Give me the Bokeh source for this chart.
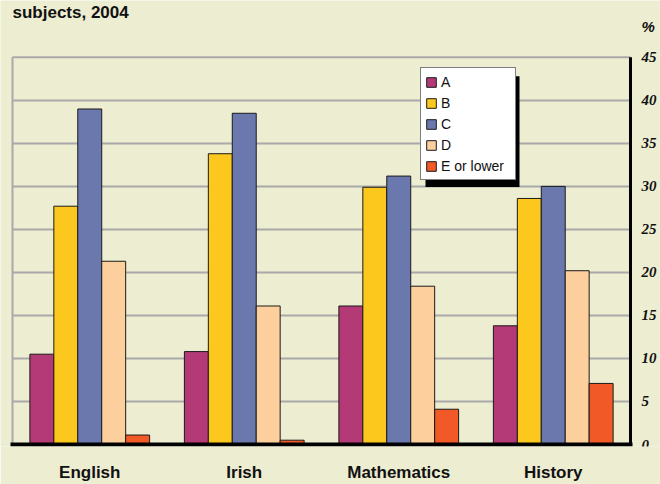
from bokeh.plotting import figure
from bokeh.models import (ColumnDataSource, Range1d, FixedTicker, Label, LabelSet,
                          Legend, LegendItem, BoxAnnotation)
from bokeh.transform import dodge
from bokeh.embed import file_html
from bokeh.resources import INLINE

# ---- data ----
subjects = ["English", "Irish", "Mathematics", "History"]
grade_names = ["A", "B", "C", "D", "E or lower"]
grade_a = [10.5, 10.8, 16.1, 13.8]
grade_b = [27.7, 33.8, 29.9, 28.6]
grade_c = [39.0, 38.5, 31.2, 30.0]
grade_d = [21.3, 16.1, 18.4, 20.2]
grade_e = [1.1, 0.5, 4.1, 7.1]
y_ticks = [0, 5, 10, 15, 20, 25, 30, 35, 40, 45]
y_tick_labels = ["0", "5", "10", "15", "20", "25", "30", "35", "40", "45"]
title_text = "subjects, 2004"
unit_text = "%"

colors = ["#B33A77", "#FDC81E", "#6B78AE", "#FCCF9D", "#F15A27"]
BG = "#EDEDD1"
GRID = "#A9A9A9"
FONT = "Liberation Sans"
TXT = "#111111"

# ---- layout (canvas pixels) ----
W, H = 660, 484
MB = 37                      # bottom border for category labels
FRAME_H = H - MB
X_LEFT_PX, X_RIGHT_PX = 12, 630  # plot box edges
PX45, PX0 = 57, 445              # canvas y of 45 and 0

n = len(subjects)
xi = list(range(1, n + 1))
x_lo, x_hi = 0.5, n + 0.5
upx = (X_RIGHT_PX - X_LEFT_PX) / (x_hi - x_lo)
y_max = max(y_ticks)
uy = (PX0 - PX45) / y_max

def px_to_x(px):
    return x_lo + (px - X_LEFT_PX) / upx

def py_to_y(py):
    return (PX0 - py) / uy

x_range = Range1d(px_to_x(0), px_to_x(W))
y_range = Range1d(py_to_y(FRAME_H), py_to_y(0))

p = figure(width=W, height=H, output_backend="svg", toolbar_location=None,
           x_range=x_range, y_range=y_range, y_axis_location=None,
           min_border_left=0, min_border_right=0, min_border_top=0,
           min_border_bottom=MB)
p.background_fill_color = BG
p.border_fill_color = BG
p.outline_line_color = None
p.xgrid.visible = False
p.ygrid.visible = False

# grid lines limited to the plot box
grid_src = ColumnDataSource(dict(y=y_ticks[1:]))
p.segment(x0=x_lo, x1=x_hi, y0="y", y1="y", source=grid_src,
          line_color=GRID, line_width=2)
# left (grey) border of the plot box
p.segment(x0=[x_lo], x1=[x_lo], y0=[0], y1=[y_max], line_color=GRID, line_width=2)

src = ColumnDataSource(dict(x=xi, A=grade_a, B=grade_b, C=grade_c, D=grade_d, E=grade_e))
bw = 0.155
offsets = [-2 * bw, -bw, 0, bw, 2 * bw]
keys = ["A", "B", "C", "D", "E"]
renderers = []
for k, off, col in zip(keys, offsets, colors):
    r = p.vbar(x=dodge("x", off), top=k, width=bw, source=src,
               fill_color=col, line_color="#1a1a1a", line_width=1)
    renderers.append(r)

# right and bottom black borders
p.segment(x0=[x_hi], x1=[x_hi], y0=[0], y1=[y_max], line_color="black", line_width=3)
p.segment(x0=[x_lo], x1=[x_hi], y0=[0], y1=[0], line_color="black", line_width=4,
          line_cap="square")

ax = p.xaxis[0]
ax.ticker = FixedTicker(ticks=xi)
overrides = {}
for v, s in zip(xi, subjects):
    overrides[v] = s
ax.major_label_overrides = overrides
ax.axis_line_color = None
ax.major_tick_line_color = None
ax.minor_tick_line_color = None
ax.major_tick_out = 0
ax.major_tick_in = 0
ax.minor_tick_out = 0
ax.minor_tick_in = 0
ax.major_label_standoff = 16
ax.major_label_text_font = FONT
ax.major_label_text_font_size = "17px"
ax.major_label_text_font_style = "bold"
ax.major_label_text_color = TXT

tick_src = ColumnDataSource(dict(y=y_ticks, text=y_tick_labels))
p.add_layout(LabelSet(x=x_hi, y="y", text="text", source=tick_src, x_offset=11,
                      text_baseline="middle", text_font=FONT, text_font_size="15px",
                      text_font_style="bold italic", text_color=TXT))
p.add_layout(Label(x=x_hi, y=y_max, x_offset=11, y_offset=31, text=unit_text,
                   text_baseline="middle", text_font=FONT, text_font_size="15px",
                   text_font_style="bold italic", text_color=TXT))
p.add_layout(Label(x=x_lo, y=py_to_y(0), x_offset=0, y_offset=-2, text=title_text,
                   text_baseline="top", text_font=FONT, text_font_size="17px",
                   text_font_style="bold", text_color=TXT))

# legend with drop shadow (canvas px)
LEG_L, LEG_T, LEG_W, LEG_H = 420, 70, 94, 111
p.add_layout(BoxAnnotation(left=px_to_x(LEG_L + 5), right=px_to_x(LEG_L + LEG_W + 5),
                           top=py_to_y(LEG_T + 6), bottom=py_to_y(LEG_T + LEG_H + 6),
                           fill_color="black", fill_alpha=1, line_color=None))
legend = Legend(items=[LegendItem(label=nm, renderers=[r]) for nm, r in zip(grade_names, renderers)],
                location=(LEG_L, FRAME_H - (LEG_T + LEG_H)), padding=4, spacing=2, margin=0,
                glyph_width=12, glyph_height=12, label_height=19, label_width=70,
                label_standoff=4, label_text_font=FONT, label_text_font_size="14px",
                label_text_color=TXT, background_fill_color="white",
                background_fill_alpha=1, border_line_color="black", border_line_width=1)
p.add_layout(legend, "center")

open("out.html", "w").write(file_html(p, INLINE))
